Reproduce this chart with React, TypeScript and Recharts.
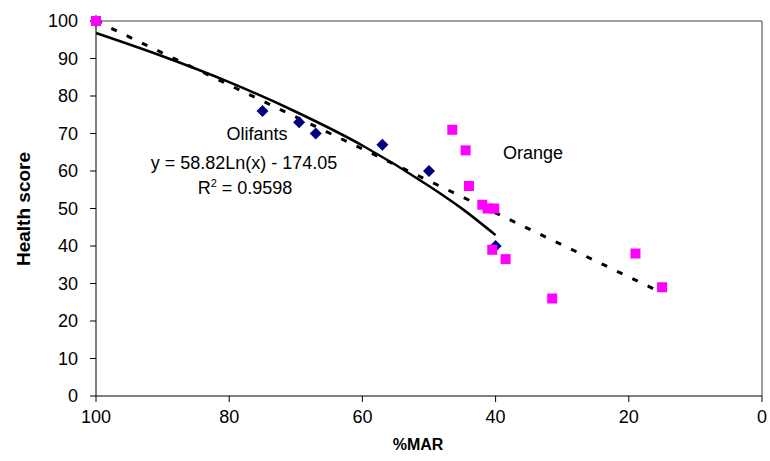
import React from 'react';
import { ComposedChart, Scatter, Line, XAxis, YAxis, ReferenceLine } from 'recharts';

// Olifants (diamonds)
const olifantsX = [100, 75, 69.5, 67, 57, 50, 40];
const olifantsY = [100, 76, 73, 70, 67, 60, 40];

// Orange (squares)
const orangeX = [100, 46.5, 44.5, 44, 42, 41.2, 40.2, 40.5, 38.5, 31.5, 19, 15];
const orangeY = [100, 71, 65.5, 56, 51, 50, 50, 39, 36.5, 26, 38, 29];

// log trendline for Olifants
const trendX = [100, 90, 80, 70, 60, 50, 45, 40];
const trendY = [96.8, 90.6, 83.7, 75.8, 66.8, 56, 49.9, 42.9];

// dotted trendline for Orange
const orangeTrendX = [100, 15];
const orangeTrendY = [100, 27.5];

const xTicks = [0, 20, 40, 60, 80, 100];
const yTicks = [0, 10, 20, 30, 40, 50, 60, 70, 80, 90, 100];

const zip = (xs: number[], ys: number[]) => xs.map((x, i) => ({ x, y: ys[i] }));

const olifants = zip(olifantsX, olifantsY);
const orange = zip(orangeX, orangeY);
const trend = zip(trendX, trendY);
const orangeTrend = zip(orangeTrendX, orangeTrendY);

const Diamond = (props: any) => {
  const { cx, cy } = props;
  const r = 6;
  return <path d={`M${cx},${cy - r}L${cx + r},${cy}L${cx},${cy + r}L${cx - r},${cy}Z`} fill="#000080" />;
};

const Square = (props: any) => {
  const { cx, cy } = props;
  const s = 10;
  return <rect x={cx - s / 2} y={cy - s / 2} width={s} height={s} fill="#FF00FF" />;
};

const font = '"Liberation Sans", Arial, sans-serif';
const tickStyle = { fontSize: 18, fill: '#000', fontFamily: font };

export default function App() {
  return (
    <div style={{ position: 'absolute', left: 0, top: 0, width: 770, height: 461, background: '#fff', fontFamily: font }}>
      <ComposedChart width={770} height={461} margin={{ top: 21, right: 8, bottom: 0, left: 0 }}>
        <XAxis
          type="number"
          dataKey="x"
          domain={[0, 100]}
          ticks={xTicks}
          reversed
          height={65}
          stroke="#000"
          tickSize={6}
          tickMargin={8}
          tick={tickStyle}
        />
        <YAxis
          type="number"
          dataKey="y"
          domain={[0, 100]}
          ticks={yTicks}
          width={96}
          stroke="#000"
          tickSize={6}
          tickMargin={12}
          tick={tickStyle}
        />
        <ReferenceLine y={100} stroke="#808080" strokeWidth={1.5} />
        <ReferenceLine x={0} stroke="#808080" strokeWidth={1.5} />
        <Line
          data={trend}
          dataKey="y"
          type="monotone"
          stroke="#000"
          strokeWidth={2.5}
          dot={false}
          isAnimationActive={false}
        />
        <Line
          data={orangeTrend}
          dataKey="y"
          type="linear"
          stroke="#000"
          strokeWidth={3}
          strokeDasharray="6 11"
          dot={false}
          isAnimationActive={false}
        />
        <Scatter data={olifants} dataKey="y" shape={Diamond} isAnimationActive={false} />
        <Scatter data={orange} dataKey="y" shape={Square} isAnimationActive={false} />
      </ComposedChart>

      <div style={{ position: 'absolute', left: 0, top: 0, width: 770, height: 461, pointerEvents: 'none', color: '#000' }}>
        <div style={{ position: 'absolute', left: 24, top: 209, transform: 'translate(-50%, -50%) rotate(-90deg)', fontWeight: 'bold', fontSize: 19, whiteSpace: 'nowrap' }}>
          Health score
        </div>
        <div style={{ position: 'absolute', left: 418, top: 445, transform: 'translate(-50%, -50%)', fontWeight: 'bold', fontSize: 16 }}>
          %MAR
        </div>
        <div style={{ position: 'absolute', left: 257, top: 134, transform: 'translate(-50%, -50%)', fontSize: 18 }}>
          Olifants
        </div>
        <div style={{ position: 'absolute', left: 244, top: 163, transform: 'translate(-50%, -50%)', fontSize: 18, whiteSpace: 'nowrap' }}>
          y = 58.82Ln(x) - 174.05
        </div>
        <div style={{ position: 'absolute', left: 245, top: 188, transform: 'translate(-50%, -50%)', fontSize: 18, whiteSpace: 'nowrap', lineHeight: 1.15 }}>
          R<sup style={{ fontSize: 11, verticalAlign: 'top', lineHeight: 1 }}>2</sup> = 0.9598
        </div>
        <div style={{ position: 'absolute', left: 533, top: 153, transform: 'translate(-50%, -50%)', fontSize: 18 }}>
          Orange
        </div>
      </div>
    </div>
  );
}
